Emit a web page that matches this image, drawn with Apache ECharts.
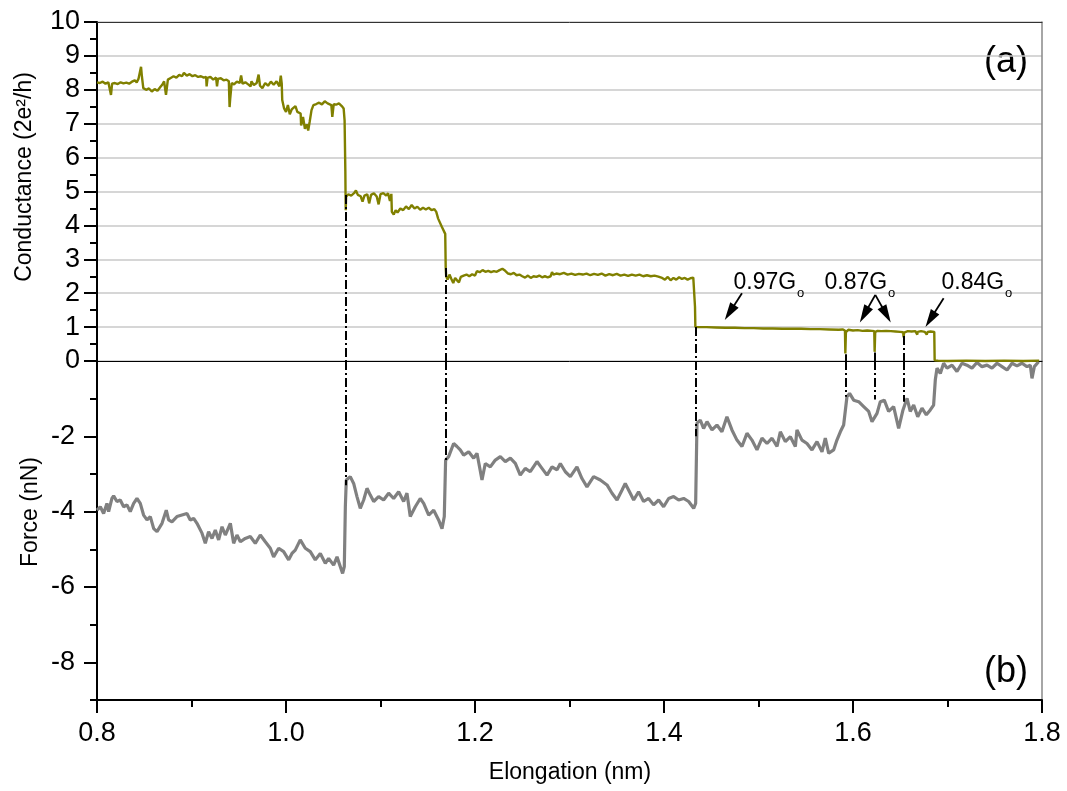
<!DOCTYPE html>
<html>
<head>
<meta charset="utf-8">
<script src="https://cdn.jsdelivr.net/npm/echarts@6/dist/echarts.min.js"></script>
<style>
html,body{margin:0;padding:0;background:#fff;}
#chart{width:1067px;height:791px;}
</style>
</head>
<body>
<div id="chart"></div>
<script>
// ---- data ----
// conductance trace [elongation nm, G in 2e^2/h]
const condTrace = [
[0.800,8.22],[0.803,8.20],[0.806,8.24],[0.809,8.18],[0.812,8.22],[0.814,8.19],[0.8148,7.85],[0.8155,7.86],[0.816,8.18],[0.819,8.20],
[0.822,8.17],[0.825,8.22],[0.828,8.19],[0.831,8.21],[0.834,8.18],[0.837,8.24],[0.840,8.28],[0.842,8.22],[0.844,8.33],[0.846,8.30],
[0.8466,8.68],[0.8475,8.40],[0.849,8.05],[0.852,8.00],[0.855,8.04],[0.858,7.95],[0.861,8.02],[0.864,7.97],[0.867,8.08],[0.869,8.15],
[0.871,8.25],[0.8725,8.30],[0.873,7.85],[0.8742,7.88],[0.875,8.30],[0.878,8.35],[0.881,8.40],[0.884,8.36],[0.887,8.44],[0.890,8.40],
[0.892,8.50],[0.895,8.42],[0.898,8.46],[0.901,8.40],[0.904,8.43],[0.907,8.38],[0.910,8.40],[0.913,8.36],[0.9155,8.38],[0.916,8.10],
[0.917,8.35],[0.920,8.38],[0.923,8.30],[0.926,8.36],[0.927,8.10],[0.928,8.32],[0.931,8.34],[0.934,8.28],[0.937,8.30],[0.9395,8.25],
[0.9403,7.49],[0.941,7.75],[0.9425,8.20],[0.945,8.16],[0.948,8.24],[0.951,8.20],[0.9525,8.42],[0.954,8.18],[0.957,8.22],[0.960,8.16],
[0.9625,8.10],[0.9635,8.25],[0.966,8.14],[0.969,8.20],[0.971,8.45],[0.9725,8.12],[0.975,8.05],[0.978,8.20],[0.981,8.12],[0.984,8.24],
[0.987,8.15],[0.990,8.25],[0.993,8.10],[0.9945,8.42],[0.9955,8.18],[0.996,7.70],[0.998,7.45],[1.000,7.35],[1.002,7.55],[1.004,7.28],
[1.006,7.42],[1.008,7.38],[1.010,7.52],[1.012,7.35],[1.0155,7.30],[1.016,6.95],[1.018,7.20],[1.020,6.85],[1.022,6.98],[1.0235,6.80],
[1.025,7.05],[1.027,7.40],[1.029,7.55],[1.032,7.58],[1.035,7.62],[1.038,7.57],[1.041,7.66],[1.044,7.60],[1.046,7.62],[1.048,7.55],
[1.049,7.20],[1.0505,7.58],[1.053,7.56],[1.056,7.60],[1.059,7.52],[1.061,7.45],[1.062,7.10],[1.0628,5.60],[1.0630,4.95],[1.0632,4.45],
[1.0636,4.85],[1.066,4.92],[1.069,4.88],[1.072,4.95],[1.074,5.03],[1.076,4.90],[1.079,4.86],[1.081,4.70],[1.083,4.88],[1.086,4.92],
[1.088,4.65],[1.090,4.90],[1.093,4.95],[1.096,4.85],[1.098,4.62],[1.100,4.92],[1.103,4.95],[1.106,4.88],[1.108,4.95],[1.110,4.72],
[1.1115,4.93],[1.112,4.40],[1.114,4.32],[1.116,4.45],[1.118,4.38],[1.121,4.50],[1.124,4.45],[1.127,4.56],[1.130,4.48],[1.133,4.60],
[1.136,4.50],[1.139,4.55],[1.142,4.46],[1.145,4.52],[1.148,4.47],[1.151,4.52],[1.154,4.45],[1.157,4.48],[1.159,4.40],[1.161,4.20],
[1.163,4.25],[1.165,3.95],[1.167,3.90],[1.1685,3.75],[1.169,2.75],[1.1695,2.50],[1.171,2.40],[1.173,2.55],[1.175,2.42],[1.177,2.30],
[1.179,2.45],[1.181,2.38],[1.183,2.32],[1.185,2.48],[1.188,2.52],[1.191,2.55],[1.194,2.50],[1.197,2.56],[1.200,2.52],[1.202,2.65],
[1.205,2.62],[1.208,2.68],[1.211,2.63],[1.214,2.66],[1.217,2.62],[1.220,2.65],[1.223,2.63],[1.226,2.68],[1.229,2.72],[1.232,2.66],
[1.235,2.58],[1.238,2.56],[1.241,2.60],[1.244,2.53],[1.247,2.55],[1.250,2.50],[1.253,2.46],[1.256,2.52],[1.259,2.45],[1.262,2.50],
[1.265,2.48],[1.268,2.52],[1.271,2.47],[1.274,2.50],[1.277,2.47],[1.280,2.50],[1.2815,2.62],[1.283,2.55],[1.286,2.58],[1.290,2.56],
[1.294,2.60],[1.298,2.55],[1.302,2.58],[1.306,2.54],[1.310,2.57],[1.314,2.55],[1.318,2.58],[1.322,2.53],[1.326,2.57],[1.330,2.54],
[1.334,2.58],[1.338,2.52],[1.342,2.56],[1.346,2.53],[1.350,2.57],[1.354,2.52],[1.358,2.55],[1.362,2.51],[1.366,2.55],[1.370,2.52],
[1.374,2.55],[1.378,2.50],[1.382,2.53],[1.386,2.50],[1.390,2.52],[1.394,2.49],[1.398,2.45],[1.401,2.40],[1.404,2.48],[1.407,2.38],
[1.410,2.45],[1.413,2.40],[1.416,2.47],[1.419,2.42],[1.422,2.45],[1.425,2.40],[1.428,2.44],[1.431,2.46],[1.432,2.42],[1.4328,1.60],
[1.4332,1.00],[1.436,1.00],[1.445,1.00],[1.455,0.99],[1.465,0.98],[1.475,0.98],[1.485,0.97],[1.495,0.97],[1.505,0.96],[1.515,0.96],
[1.525,0.95],[1.535,0.95],[1.545,0.95],[1.555,0.94],[1.565,0.94],[1.575,0.93],[1.585,0.92],[1.589,0.93],[1.5915,0.90],[1.5919,0.22],
[1.5925,0.85],[1.595,0.92],[1.600,0.90],[1.605,0.91],[1.610,0.89],[1.615,0.90],[1.620,0.89],[1.6225,0.88],[1.6229,0.27],[1.6235,0.86],
[1.626,0.89],[1.630,0.88],[1.635,0.89],[1.640,0.88],[1.645,0.87],[1.650,0.86],[1.653,0.85],[1.6536,0.70],[1.654,0.84],[1.658,0.88],
[1.662,0.87],[1.666,0.88],[1.668,0.78],[1.6685,0.86],[1.672,0.88],[1.676,0.86],[1.678,0.78],[1.679,0.86],[1.682,0.87],[1.686,0.86],
[1.6864,0.02],[1.690,0.01],[1.700,0.00],[1.720,0.01],[1.740,0.00],[1.760,0.01],[1.780,0.00],[1.797,0.01]
];

// force trace [elongation nm, force nN]
const forceTrace = [
[0.800,-3.96],[0.8035,-3.87],[0.807,-4.05],[0.8105,-3.78],[0.8123,-4.00],[0.8158,-3.65],[0.8176,-3.58],[0.8211,-3.73],[0.8246,-3.69],[0.8282,-3.87],
[0.8317,-3.82],[0.8352,-4.00],[0.8388,-3.78],[0.8423,-3.65],[0.8458,-3.78],[0.8493,-4.09],[0.8529,-4.22],[0.8564,-4.13],[0.860,-4.45],[0.8635,-4.53],
[0.8652,-4.57],[0.8688,-4.31],[0.8733,-3.96],[0.8758,-4.22],[0.8793,-4.27],[0.8846,-4.13],[0.8899,-4.09],[0.8952,-4.05],[0.8987,-4.22],[0.9023,-4.18],
[0.9058,-4.31],[0.9111,-4.57],[0.9146,-4.84],[0.9181,-4.53],[0.9217,-4.71],[0.9252,-4.49],[0.9287,-4.75],[0.9323,-4.40],[0.9358,-4.62],[0.9411,-4.31],
[0.9446,-4.84],[0.9481,-4.62],[0.9517,-4.80],[0.9569,-4.71],[0.9622,-4.66],[0.9675,-4.84],[0.9728,-4.62],[0.9781,-4.80],[0.9834,-4.97],[0.9869,-5.20],
[0.9922,-4.97],[0.9975,-5.06],[1.0028,-5.28],[1.0063,-5.11],[1.0098,-5.02],[1.0151,-4.75],[1.0204,-4.97],[1.0257,-5.06],[1.0310,-5.28],[1.0363,-5.11],
[1.0416,-5.37],[1.0451,-5.24],[1.0504,-5.42],[1.0540,-5.20],[1.0575,-5.46],[1.0599,-5.64],[1.0617,-5.46],[1.0628,-3.87],[1.0638,-3.16],[1.0680,-3.07],
[1.0716,-3.25],[1.0751,-3.60],[1.0786,-3.91],[1.0822,-3.69],[1.0857,-3.38],[1.0892,-3.56],[1.0928,-3.73],[1.0980,-3.60],[1.1033,-3.69],[1.1086,-3.51],
[1.1139,-3.65],[1.1192,-3.47],[1.1245,-3.73],[1.1280,-3.51],[1.1315,-4.13],[1.1368,-3.87],[1.1421,-3.65],[1.1457,-3.78],[1.1510,-4.09],[1.1563,-3.96],
[1.1615,-4.22],[1.1651,-4.45],[1.1675,-4.13],[1.1689,-2.63],[1.1721,-2.54],[1.1774,-2.19],[1.1809,-2.27],[1.1844,-2.36],[1.1880,-2.50],[1.1933,-2.41],
[1.1986,-2.58],[1.2021,-2.45],[1.2074,-3.16],[1.2109,-2.72],[1.2162,-2.81],[1.2215,-2.63],[1.2268,-2.54],[1.2321,-2.67],[1.2374,-2.58],[1.2427,-2.72],
[1.2479,-3.03],[1.2532,-2.85],[1.2585,-2.94],[1.2656,-2.67],[1.2709,-2.85],[1.2762,-3.03],[1.2815,-2.81],[1.2868,-2.89],[1.2903,-2.72],[1.2956,-2.94],
[1.3009,-3.07],[1.3079,-2.81],[1.3132,-3.12],[1.3185,-3.34],[1.3255,-3.07],[1.3326,-3.16],[1.3397,-3.29],[1.3450,-3.51],[1.3503,-3.69],[1.3555,-3.43],
[1.3590,-3.25],[1.3643,-3.51],[1.3679,-3.69],[1.3731,-3.47],[1.3784,-3.73],[1.3837,-3.65],[1.3890,-3.82],[1.3943,-3.69],[1.3996,-3.87],[1.4049,-3.65],
[1.4102,-3.60],[1.4155,-3.69],[1.4208,-3.65],[1.4261,-3.73],[1.4314,-3.91],[1.4335,-3.78],[1.4349,-1.65],[1.4384,-1.57],[1.4419,-1.79],[1.4455,-1.61],
[1.4508,-1.83],[1.4560,-1.70],[1.4613,-1.88],[1.4666,-1.48],[1.4719,-1.83],[1.4772,-2.10],[1.4825,-2.27],[1.4878,-1.92],[1.4931,-2.10],[1.4984,-2.36],
[1.5037,-2.05],[1.5090,-2.19],[1.5143,-2.05],[1.5196,-2.27],[1.5231,-1.88],[1.5284,-2.14],[1.5337,-2.01],[1.5390,-2.27],[1.5407,-1.83],[1.5460,-2.10],
[1.5513,-2.19],[1.5566,-2.36],[1.5619,-2.14],[1.5672,-2.41],[1.5707,-2.05],[1.5743,-2.45],[1.5795,-2.36],[1.5830,-2.10],[1.5866,-1.88],[1.5901,-1.70],
[1.5936,-0.95],[1.5964,-0.86],[1.6007,-1.04],[1.6060,-1.08],[1.6113,-1.21],[1.6166,-1.34],[1.6201,-1.61],[1.6254,-1.39],[1.6289,-1.08],[1.6331,-1.04],
[1.6377,-1.34],[1.6430,-1.21],[1.6483,-1.79],[1.6529,-1.30],[1.6572,-0.99],[1.6606,-1.34],[1.6642,-1.17],[1.6685,-1.48],[1.6730,-1.25],[1.6776,-1.43],
[1.6818,-1.30],[1.6853,-1.17],[1.6871,-0.50],[1.6889,-0.19],[1.6924,-0.33],[1.6959,-0.06],[1.6995,-0.19],[1.7048,-0.11],[1.7100,-0.28],[1.7153,-0.06],
[1.7206,-0.11],[1.7259,-0.19],[1.7312,-0.04],[1.7365,-0.15],[1.7418,-0.11],[1.7471,-0.19],[1.7524,-0.06],[1.7577,-0.15],[1.7630,-0.24],[1.7683,-0.06],
[1.7735,-0.13],[1.7788,-0.06],[1.7841,-0.15],[1.7876,-0.11],[1.7894,-0.46],[1.7919,-0.15],[1.7964,-0.02]
];

// dash-dot guide lines linking conductance jumps with force jumps
const dashElong  = [1.0630, 1.1690, 1.4335, 1.5920, 1.6228, 1.6535];
const dashTopG   = [4.90, 2.74, 1.00, 0.20, 0.25, 0.74];
const dashBottomF = [-3.30, -2.70, -2.00, -0.95, -1.02, -1.08];

// annotation labels and arrows (data space)
const annText   = ['0.97G', '0.87G', '0.84G'];
const annAnchor = [[1.4735, 2.30], [1.5698, 2.30], [1.6936, 2.30]];
const arrowTail = [[1.4825, 2.00], [1.6236, 1.95], [1.6236, 1.95], [1.6959, 1.85]];
const arrowHead = [[1.4694, 1.43], [1.6119, 1.37], [1.6353, 1.37], [1.6818, 1.23]];

const forceLabelTicks = [-8, -6, -4, -2];
const forceMajorTicks = [-8, -6, -4, -2, 0];
const forceMinorTicks = [-9, -7, -5, -3, -1];

// ---- chart ----
const FONT = '"Liberation Sans", Arial, Helvetica, sans-serif';
const chart = echarts.init(document.getElementById('chart'), null, {renderer: 'canvas'});

const dashPattern = [9, 3, 2, 3];
const ARROW = 'path://M5,0L10,18L0,18Z';
const topDash = dashElong.map((x, i) => [{coord: [x, dashTopG[i]]}, {coord: [x, 0]}]);
const bottomDash = dashElong.map((x, i) => [{coord: [x, 0]}, {coord: [x, dashBottomF[i]]}]);
const arrows = arrowTail.map((t, i) => [{coord: t}, {coord: arrowHead[i]}]);

const option = {
  animation: false,
  backgroundColor: '#ffffff',
  grid: [
    {left: 97, right: 25, top: 22, height: 339},
    {left: 97, right: 25, top: 361, height: 339}
  ],
  xAxis: [
    {gridIndex: 0, type: 'value', position: 'bottom', min: 0.8, max: 1.8,
     axisLine: {show: true, onZero: false, lineStyle: {color: '#000', width: 1}},
     axisTick: {show: false}, axisLabel: {show: false}, splitLine: {show: false}},
    {gridIndex: 0, type: 'value', position: 'top', min: 0.8, max: 1.8,
     axisLine: {show: true, onZero: false, lineStyle: {color: '#333', width: 1}},
     axisTick: {show: false}, axisLabel: {show: false}, splitLine: {show: false}},
    {gridIndex: 1, type: 'value', position: 'bottom', min: 0.8, max: 1.8, interval: 0.2,
     axisLine: {show: true, onZero: false, lineStyle: {color: '#000', width: 2}},
     axisTick: {show: true, inside: false, length: 13, lineStyle: {color: '#000', width: 2}},
     minorTick: {show: true, splitNumber: 2, length: 7, lineStyle: {color: '#000', width: 2}},
     axisLabel: {show: true, margin: 20, fontSize: 27, fontFamily: FONT, color: '#000',
       formatter: v => v.toFixed(1)},
     splitLine: {show: false}}
  ],
  yAxis: [
    {gridIndex: 0, type: 'value', position: 'left', min: 0, max: 10, interval: 1,
     axisLine: {show: true, onZero: false, lineStyle: {color: '#000', width: 2}},
     axisTick: {show: true, length: 13, lineStyle: {color: '#000', width: 2}},
     minorTick: {show: true, splitNumber: 2, length: 7, lineStyle: {color: '#000', width: 2}},
     axisLabel: {show: true, margin: 17, fontSize: 27, fontFamily: FONT, color: '#000'},
     splitLine: {show: true, lineStyle: {color: '#c8c8c8', width: 1.5}}},
    {gridIndex: 0, type: 'value', position: 'right', min: 0, max: 10,
     axisLine: {show: true, onZero: false, lineStyle: {color: '#888', width: 1.5}},
     axisTick: {show: false}, axisLabel: {show: false}, splitLine: {show: false}},
    {gridIndex: 1, type: 'value', position: 'left', min: -9, max: 0, interval: 1,
     axisLine: {show: true, onZero: false, lineStyle: {color: '#000', width: 2}},
     axisTick: {show: true, length: 13, customValues: forceMajorTicks, lineStyle: {color: '#000', width: 2}},
     axisLabel: {show: true, margin: 22, fontSize: 27, fontFamily: FONT, color: '#000',
       customValues: forceLabelTicks},
     splitLine: {show: false}},
    {gridIndex: 1, type: 'value', position: 'left', min: -9, max: 0, interval: 1,
     axisLine: {show: false, onZero: false},
     axisTick: {show: true, length: 7, customValues: forceMinorTicks, lineStyle: {color: '#000', width: 2}},
     axisLabel: {show: false}, splitLine: {show: false}},
    {gridIndex: 1, type: 'value', position: 'right', min: -9, max: 0,
     axisLine: {show: true, onZero: false, lineStyle: {color: '#888', width: 1.5}},
     axisTick: {show: false}, axisLabel: {show: false}, splitLine: {show: false}}
  ],
  series: [
    {name: 'Conductance', type: 'line', xAxisIndex: 0, yAxisIndex: 0, data: condTrace,
     showSymbol: false, clip: false, z: 3,
     lineStyle: {color: '#808000', width: 2.4}, itemStyle: {color: '#808000'}},
    {name: 'Force', type: 'line', xAxisIndex: 2, yAxisIndex: 2, data: forceTrace,
     showSymbol: false, clip: false, z: 2,
     lineStyle: {color: '#808080', width: 3.2}, itemStyle: {color: '#808080'}},
    {name: 'guidesTop', type: 'line', xAxisIndex: 0, yAxisIndex: 0, data: [], z: 5,
     markLine: {silent: true, symbol: ['none', 'none'], animation: false, label: {show: false},
       lineStyle: {color: '#000', width: 2, type: dashPattern}, data: topDash}},
    {name: 'guidesBottom', type: 'line', xAxisIndex: 2, yAxisIndex: 2, data: [], z: 5,
     markLine: {silent: true, symbol: ['none', 'none'], animation: false, label: {show: false},
       lineStyle: {color: '#000', width: 2, type: dashPattern}, data: bottomDash}},
    {name: 'annotations', type: 'scatter', xAxisIndex: 0, yAxisIndex: 0, data: annAnchor,
     symbolSize: 0, z: 6, silent: true,
     itemStyle: {opacity: 1, color: '#000'},
     label: {show: true, position: 'right', distance: 0, color: '#000', opacity: 1, textBorderWidth: 0,
       formatter: p => '{m|' + annText[p.dataIndex] + '}{s|o}',
       rich: {
         m: {fontSize: 23, fontFamily: FONT, color: '#000', lineHeight: 24, verticalAlign: 'top'},
         s: {fontSize: 13, fontFamily: FONT, color: '#000', lineHeight: 13, verticalAlign: 'top', padding: [16, 0, 0, 1]}
       }},
     markLine: {silent: true, symbol: ['none', ARROW], symbolSize: 18, symbolKeepAspect: true, animation: false,
       label: {show: false}, lineStyle: {color: '#000', width: 1.8, type: 'solid'},
       itemStyle: {color: '#000'}, data: arrows}}
  ],
  graphic: [
    {type: 'text', x: 25, y: 177, rotation: Math.PI / 2,
     style: {text: 'Conductance (2e²/h)', font: '23px ' + FONT, fill: '#000', align: 'center', verticalAlign: 'middle'}},
    {type: 'text', x: 31, y: 512, rotation: Math.PI / 2,
     style: {text: 'Force (nN)', font: '23px ' + FONT, fill: '#000', align: 'center', verticalAlign: 'middle'}},
    {type: 'text', x: 570, y: 773,
     style: {text: 'Elongation (nm)', font: '23px ' + FONT, fill: '#000', align: 'center', verticalAlign: 'middle'}},
    {type: 'text', x: 1028, y: 62,
     style: {text: '(a)', font: '36px ' + FONT, fill: '#000', align: 'right', verticalAlign: 'middle'}},
    {type: 'text', x: 1028, y: 672,
     style: {text: '(b)', font: '36px ' + FONT, fill: '#000', align: 'right', verticalAlign: 'middle'}}
  ]
};
chart.setOption(option);
</script>
</body>
</html>
